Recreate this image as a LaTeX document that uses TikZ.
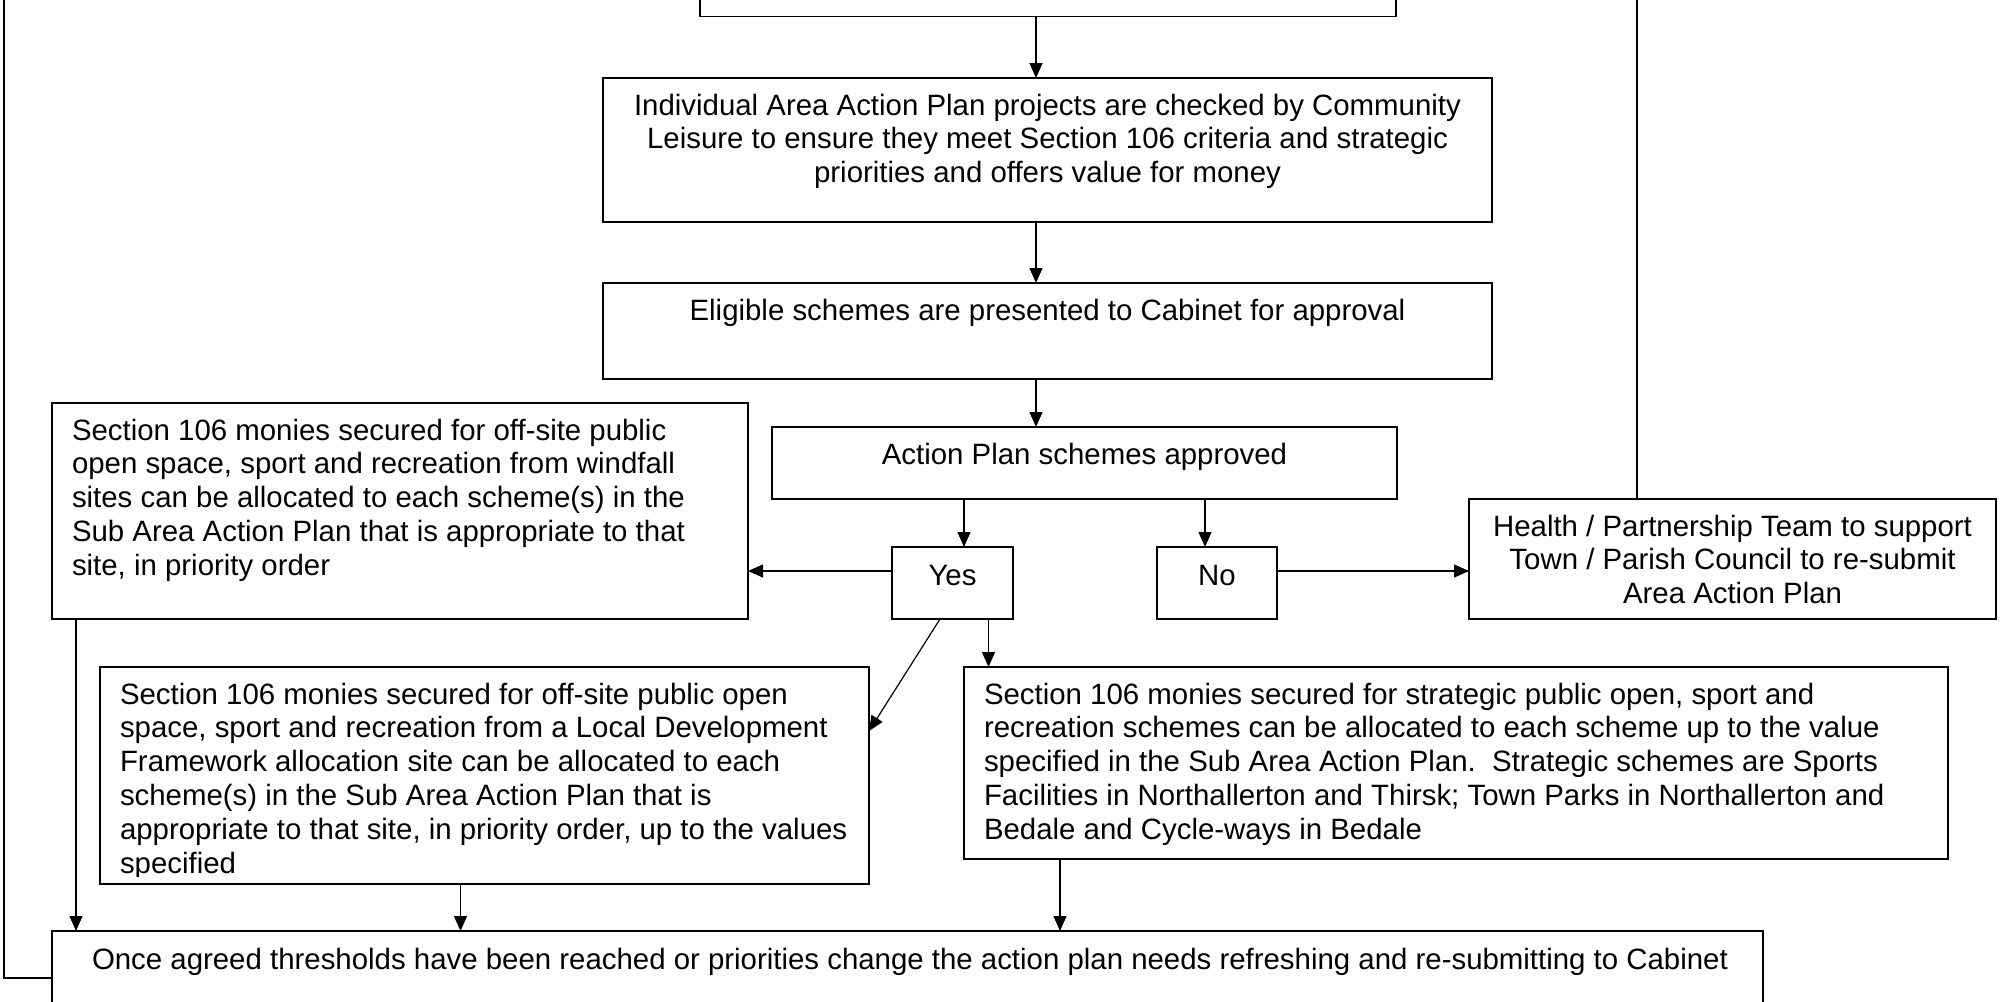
\documentclass[tikz,border=0pt]{standalone}
\usepackage{fontspec}
\setmainfont{Liberation Sans}
\usetikzlibrary{arrows.meta}
\tikzset{
  box/.style={draw, line width=0.85pt, inner sep=0pt, outer sep=0pt},
  txt/.style={inner sep=0pt, outer sep=0pt, font=\fontsize{14.7pt}{16.9pt}\selectfont},
  conn/.style={line width=0.6pt},
  arr/.style={conn, -{Triangle[length=7.5pt,width=6.5pt]}},
}
\newcommand\mkbox[5]{\node[box, anchor=north west, minimum width={(#4-#2)*0.5pt}, minimum height={(#5-#3)*0.5pt}] (#1) at (#2,#3) {};}
\newcommand\linesl[1]{\begin{tabular}[t]{@{}l@{}}#1\end{tabular}}
\newcommand\linesc[1]{\begin{tabular}[t]{@{}c@{}}#1\end{tabular}}
\begin{document}
\begin{tikzpicture}[x=0.5pt,y=-0.5pt]
\useasboundingbox (0,0) rectangle (2000,1001);
\fill[white] (0,0) rectangle (2000,1001);
\clip (0,0) rectangle (2000,1001);

% boxes
\mkbox{topbox}{700}{-40}{1396}{16.5}
\mkbox{ind}{603}{78}{1492}{222}
\mkbox{elig}{603}{283}{1492}{379}
\mkbox{act}{772}{427}{1397}{499}
\mkbox{windfall}{52}{403}{748}{619}
\mkbox{yes}{892}{547}{1013}{619}
\mkbox{no}{1157}{547}{1277}{619}
\mkbox{health}{1469}{499}{1996}{619}
\mkbox{ldf}{100}{667}{869}{884}
\mkbox{strat}{964}{667}{1948}{859}
\mkbox{bot}{52}{931}{1763}{1060}

% texts
\node[txt, anchor=base] (tind) at (1047.5,115) {\linesc{Individual Area Action Plan projects are checked by Community\\Leisure to ensure they meet Section 106 criteria and strategic\\priorities and offers value for money}};
\node[txt, anchor=base] (telig) at (1047.5,320) {Eligible schemes are presented to Cabinet for approval};
\node[txt, anchor=base] (tact) at (1084.5,464) {Action Plan schemes approved};
\node[txt, anchor=base west] (twind) at (72,440) {\linesl{Section 106 monies secured for off-site public\\open space, sport and recreation from windfall\\sites can be allocated to each scheme(s) in the\\Sub Area Action Plan that is appropriate to that\\site, in priority order}};
\node[txt, anchor=base] (tyes) at (952.5,585) {Yes};
\node[txt, anchor=base] (tno) at (1217,585) {No};
\node[txt, anchor=base] (thealth) at (1732.5,536) {\linesc{Health / Partnership Team to support\\Town / Parish Council to re-submit\\Area Action Plan}};
\begin{scope}
\clip (100,667) rectangle (869,876);
\node[txt, anchor=base west] (tldf) at (120,704) {\linesl{Section 106 monies secured for off-site public open\\space, sport and recreation from a Local Development\\Framework allocation site can be allocated to each\\scheme(s) in the Sub Area Action Plan that is\\appropriate to that site, in priority order, up to the values\\specified}};
\end{scope}
\node[txt, anchor=base west] (tstrat) at (984,704) {\linesl{Section 106 monies secured for strategic public open, sport and\\recreation schemes can be allocated to each scheme up to the value\\specified in the Sub Area Action Plan.\ \ Strategic schemes are Sports\\Facilities in Northallerton and Thirsk; Town Parks in Northallerton and\\Bedale and Cycle-ways in Bedale}};
\node[txt, anchor=base west] (tbot) at (92,969) {Once agreed thresholds have been reached or priorities change the action plan needs refreshing and re-submitting to Cabinet};

% helper coordinates
\coordinate (x1036) at (1036,0);
\coordinate (x964) at (964,0);
\coordinate (x1205) at (1205,0);
\coordinate (x988) at (988.5,0);
\coordinate (x940) at (940,0);
\coordinate (x1637) at (1637,0);
\coordinate (x76) at (76,0);
\coordinate (x460) at (460.5,0);
\coordinate (x1060) at (1060,0);
\coordinate (y571) at (0,571);
\coordinate (y732) at (0,731);
\coordinate (y978) at (0,978);
\coordinate (topR) at (1637,-20);
\coordinate (fbL) at (4,978);
\coordinate (fbTop) at (4,-20);

% connectors
\draw[arr] (topbox.south -| x1036) -- (ind.north -| x1036);
\draw[arr] (ind.south -| x1036) -- (elig.north -| x1036);
\draw[arr] (elig.south -| x1036) -- (act.north -| x1036);
\draw[arr] (act.south -| x964) -- (yes.north -| x964);
\draw[arr] (act.south -| x1205) -- (no.north -| x1205);
\draw[arr] (yes.west |- y571) -- (windfall.east |- y571);
\draw[arr] (no.east |- y571) -- (health.west |- y571);
\draw[arr] (yes.south -| x988) -- (strat.north -| x988);
\draw[arr] (yes.south -| x940) -- (ldf.east |- y732);
\draw[conn] (health.north -| x1637) -- (topR);
\draw[arr] (windfall.south -| x76) -- (bot.north -| x76);
\draw[arr] (ldf.south -| x460) -- (bot.north -| x460);
\draw[arr] (strat.south -| x1060) -- (bot.north -| x1060);
\draw[conn] (bot.west |- y978) -- (fbL) -- (fbTop);
\end{tikzpicture}
\end{document}
